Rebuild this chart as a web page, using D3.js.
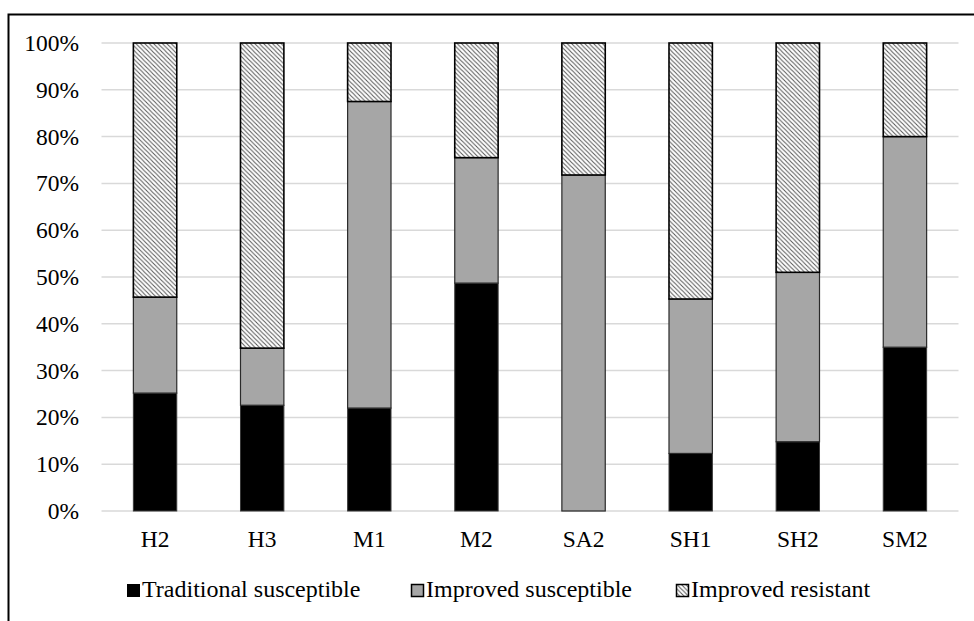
<!DOCTYPE html>
<html>
<head>
<meta charset="utf-8">
<script src="https://cdn.jsdelivr.net/npm/d3@7/dist/d3.min.js"></script>
<style>
  html, body { margin: 0; padding: 0; background: #fff; }
  svg { display: block; }
</style>
</head>
<body>
<svg id="chart" width="974" height="621"></svg>
<script>
// Sites along the x axis
const sites = ["H2", "H3", "M1", "M2", "SA2", "SH1", "SH2", "SM2"];
// Share of each variety group per site (%)
const traditionalSusceptible = [25.2, 22.6, 22.0, 48.7, 0.0, 12.3, 14.8, 35.0];
const improvedSusceptible    = [20.5, 12.2, 65.5, 26.8, 71.8, 33.0, 36.2, 45.0];
const improvedResistant      = [54.3, 65.2, 12.5, 24.5, 28.2, 54.7, 49.0, 20.0];
const seriesNames = ["Traditional susceptible", "Improved susceptible", "Improved resistant"];
const yTicks = [0, 10, 20, 30, 40, 50, 60, 70, 80, 90, 100];

const FONT = '"Liberation Serif"';
const AXIS_FS = "23.5px";
const LEGEND_FS = "24px";

const svg = d3.select("#chart");
const plot = { left: 101.5, right: 958.5, top: 43, bottom: 511 };

// Hatched fill for the resistant group
const defs = svg.append("defs");
const hs = 4.4;
const pat = defs.append("pattern")
  .attr("id", "hatch")
  .attr("patternUnits", "userSpaceOnUse")
  .attr("width", hs).attr("height", hs);
pat.append("rect").attr("width", hs).attr("height", hs).attr("fill", "#fff");
pat.append("path")
  .attr("d", `M-1,-1 L${hs + 1},${hs + 1} M-1,${hs - 1} L1,${hs + 1} M${hs - 1},-1 L${hs + 1},1`)
  .attr("stroke", "#555").attr("stroke-width", 1);

// Outer frame (runs past the right and bottom edges)
svg.append("rect")
  .attr("x", 8.5).attr("y", 14.5)
  .attr("width", 1000).attr("height", 700)
  .attr("fill", "none").attr("stroke", "#000").attr("stroke-width", 2);

const x = d3.scaleBand().domain(sites).range([plot.left, plot.right]).paddingInner(0.595).paddingOuter(0.2975);
const y = d3.scaleLinear().domain([0, 100]).range([plot.bottom, plot.top]);

// Horizontal gridlines
svg.append("g").selectAll("line").data(yTicks).join("line")
  .attr("x1", plot.left).attr("x2", plot.right)
  .attr("y1", d => y(d)).attr("y2", d => y(d))
  .attr("stroke", "#d9d9d9").attr("stroke-width", 1.5);

// Y axis labels
const yAxis = d3.axisLeft(y).tickValues(yTicks).tickFormat(d => d + "%").tickSize(0).tickPadding(0);
const yg = svg.append("g").attr("transform", "translate(79,0)").call(yAxis)
  .attr("font-family", null).attr("font-size", null);
yg.select(".domain").remove();
yg.selectAll("text")
  .attr("dy", null).attr("y", 7.5)
  .style("font-family", FONT).style("font-size", AXIS_FS).style("fill", "#000");

// X axis labels
const xAxis = d3.axisBottom(x).tickSize(0).tickPadding(0);
const xg = svg.append("g").attr("transform", "translate(0,547)").call(xAxis)
  .attr("font-family", null).attr("font-size", null);
xg.select(".domain").remove();
xg.selectAll("text")
  .attr("dy", null).attr("y", 0)
  .style("font-family", FONT).style("font-size", AXIS_FS).style("fill", "#000");

// Stacked bars
const rows = sites.map((s, i) => ({
  site: s,
  [seriesNames[0]]: traditionalSusceptible[i],
  [seriesNames[1]]: improvedSusceptible[i],
  [seriesNames[2]]: improvedResistant[i]
}));
const stacked = d3.stack().keys(seriesNames)(rows);
const fills = ["#000000", "#a6a6a6", "url(#hatch)"];
const strokes = ["#3a3a3a", "#2a2a2a", "#000"];
const strokeW = [1, 1.2, 1.6];

stacked.forEach((layer, li) => {
  svg.append("g").selectAll("rect").data(layer.filter(d => d[1] - d[0] > 0)).join("rect")
    .attr("x", d => x(d.data.site))
    .attr("width", x.bandwidth())
    .attr("y", d => y(d[1]))
    .attr("height", d => y(d[0]) - y(d[1]))
    .attr("fill", fills[li])
    .attr("stroke", strokes[li])
    .attr("stroke-width", strokeW[li]);
});

// Legend
const legendItems = [
  { name: seriesNames[0], x: 127 },
  { name: seriesNames[1], x: 411 },
  { name: seriesNames[2], x: 676 }
];
const lg = svg.append("g");
legendItems.forEach((it, i) => {
  lg.append("rect")
    .attr("x", it.x + 0.5).attr("y", 584.5)
    .attr("width", 12).attr("height", 12)
    .attr("fill", fills[i])
    .attr("stroke", "#000")
    .attr("stroke-width", i === 0 ? 1 : 1.5);
  lg.append("text")
    .attr("x", it.x + 15).attr("y", 597)
    .style("font-family", FONT).style("font-size", LEGEND_FS).style("fill", "#000")
    .text(it.name);
});
</script>
</body>
</html>
